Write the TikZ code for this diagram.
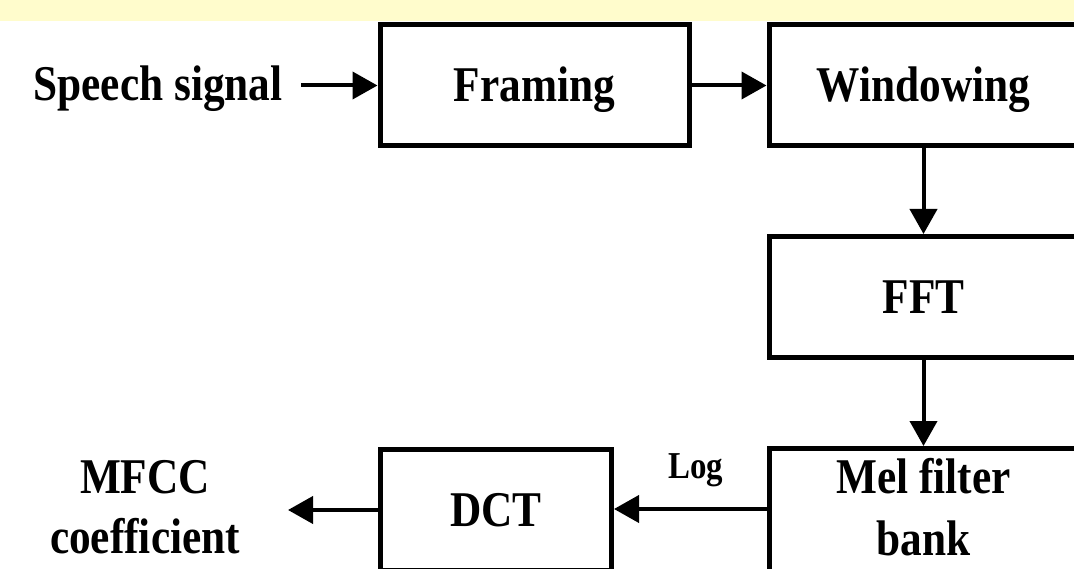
\documentclass[tikz,border=0pt]{standalone}
\usepackage{fontspec}
\setmainfont{Liberation Serif}[FakeStretch=0.866]
\usetikzlibrary{arrows.meta}
\definecolor{bandyellow}{RGB}{255,252,204}
\newcommand\dgbig{\fontsize{50}{62}\selectfont\bfseries}
\newcommand\dglog{\fontsize{38}{40}\selectfont\bfseries}
\newcommand\dgtwolines[2]{\vtop{\halign{\hfil##\hfil\cr #1\cr #2\cr}}}
\begin{document}
\begin{tikzpicture}[x=1pt,y=-1pt,
  box/.style={draw, line width=5pt, inner sep=0pt, minimum width=309pt,
    minimum height=121pt, text height=33pt, text depth=0pt, font=\dgbig},
  arr/.style={line width=4pt, -{Triangle[length=25pt,width=27pt]}},
  lbl/.style={inner sep=0pt, font=\dgbig}]
\useasboundingbox (0,0) rectangle (1074,569);
\clip (0,0) rectangle (1074,569);
\fill[bandyellow] (0,0) rectangle (1074,21);

\node[box] (framing) at (534.5,85.5) {Framing};
\node[box] (windowing) at (923.5,85.5) {Windowing};
\node[box] (fft) at (923.5,297) {FFT};
\node[box, minimum height=126pt, text height=30pt, text depth=67pt] (mel) at (923.5,511.5) {\dgtwolines{Mel filter}{bank}};
\node[box, minimum width=231pt] (dct) at (496,510) {DCT};

\node[lbl, anchor=base] (speech) at (158,101) {Speech signal};
\node[lbl, anchor=base, font=\fontsize{50}{60}\selectfont\bfseries] (mfcc) at (145,493) {\dgtwolines{MFCC}{coefficient}};
\node[lbl, anchor=base, font=\dglog] (log) at (695.5,478) {Log};

\coordinate (sigin) at (301,85.5);
\coordinate (mfccout) at (288,510);
\draw[arr] (sigin) -- (framing.west);
\draw[arr] (framing.east) -- (windowing.west);
\draw[arr] (windowing.south) -- (fft.north);
\draw[arr] (fft.south) -- (mel.north);
\draw[arr] ([yshift=2.5pt]mel.west) -- ([yshift=2.5pt]mel.west -| dct.east);
\draw[arr] (dct.west) -- (mfccout);
\end{tikzpicture}
\end{document}
